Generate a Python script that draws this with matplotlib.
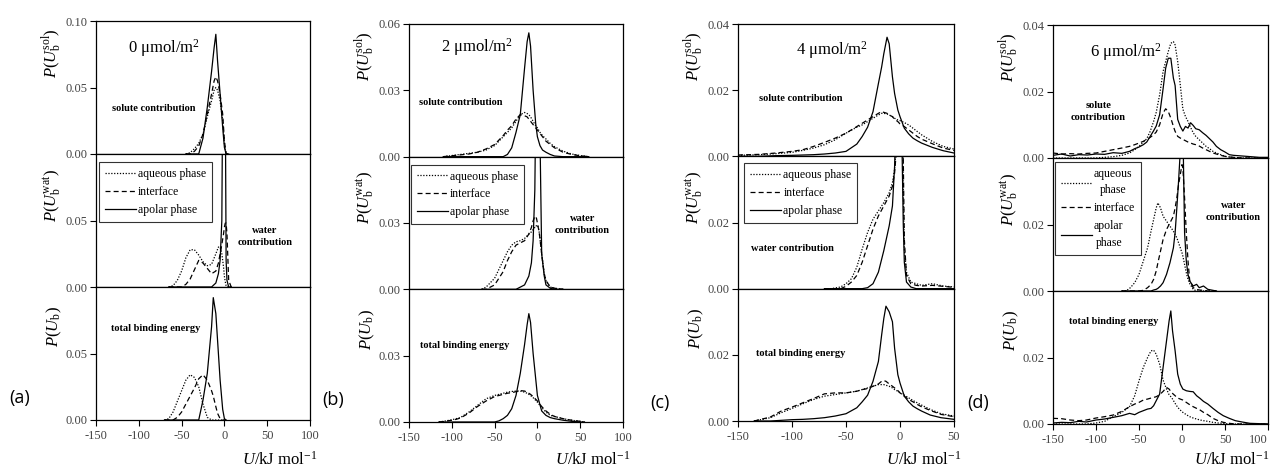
import numpy as np
import matplotlib
matplotlib.use('Agg')
from matplotlib import pyplot as plt

# ---- panel (a): 0 umol/m2 ----
a_sol_u = [-45, -40, -35, -30, -25, -20, -15, -12, -10, -8, -5, -2, 0, 2, 5]
a_sol_aq = [0, 0.001, 0.004, 0.008, 0.015, 0.028, 0.040, 0.048, 0.050, 0.048, 0.040, 0.025, 0.008, 0, 0]
a_sol_int = [0, 0, 0.002, 0.006, 0.015, 0.030, 0.045, 0.055, 0.058, 0.055, 0.045, 0.030, 0.010, 0, 0]
a_sol_apo = [0, 0, 0, 0, 0.012, 0.035, 0.062, 0.080, 0.090, 0.070, 0.045, 0.020, 0.005, 0, 0]

a_wat_u = [-65, -60, -55, -50, -45, -40, -35, -30, -25, -20, -15, -10, -7, -5, -3, -2, -1, 0, 1, 2, 3, 5, 8]
a_wat_aq = [0, 0.001, 0.005, 0.012, 0.022, 0.028, 0.028, 0.024, 0.019, 0.016, 0.017, 0.025, 0.030, 0.030,
            0.025, 0.020, 0.015, 0.008, 0.004, 0.001, 0, 0, 0]
a_wat_int = [0, 0, 0, 0, 0.002, 0.006, 0.013, 0.020, 0.018, 0.014, 0.010, 0.012, 0.018, 0.025,
             0.032, 0.036, 0.040, 0.045, 0.048, 0.048, 0.040, 0.005, 0]
a_wat_apo = [0, 0, 0, 0, 0, 0, 0, 0, 0, 0, 0, 0.003, 0.010, 0.020, 0.050, 0.150, 0.200, 0.200, 0.150,
             0.020, 0.005, 0, 0]

a_tot_u = [-70, -65, -60, -55, -50, -45, -40, -35, -30, -25, -20, -15, -13, -10, -8, -5, -2, 0, 2]
a_tot_aq = [0, 0.001, 0.006, 0.014, 0.022, 0.030, 0.034, 0.032, 0.025, 0.012, 0.002, 0, 0, 0, 0, 0, 0, 0, 0]
a_tot_int = [0, 0, 0, 0.002, 0.006, 0.012, 0.018, 0.024, 0.031, 0.034, 0.030, 0.022, 0.018, 0.010, 0.005,
             0.001, 0, 0, 0]
a_tot_apo = [0, 0, 0, 0, 0, 0, 0, 0, 0, 0.015, 0.035, 0.070, 0.092, 0.080, 0.060, 0.030, 0.008, 0.001, 0]

# ---- panel (b): 2 umol/m2 ----
b_sol_u = [-110, -100, -90, -80, -70, -60, -50, -40, -35, -30, -25, -20, -15, -12, -10, -8, -5, -2, 0,
           3, 6, 10, 15, 20, 30, 40, 50, 60]
b_sol_aq = [0, 0.0005, 0.001, 0.0015, 0.002, 0.003, 0.005, 0.009, 0.011, 0.013, 0.016, 0.019, 0.020,
            0.0195, 0.019, 0.018, 0.016, 0.014, 0.013, 0.011, 0.0095, 0.008, 0.006, 0.0045, 0.0025,
            0.0012, 0.0005, 0]
b_sol_int = [0, 0.0004, 0.0008, 0.0012, 0.002, 0.0035, 0.0055, 0.0095, 0.012, 0.014, 0.017, 0.019,
             0.0185, 0.018, 0.017, 0.016, 0.0145, 0.013, 0.012, 0.0105, 0.009, 0.007, 0.0055, 0.004,
             0.002, 0.001, 0.0004, 0]
b_sol_apo = [0, 0, 0, 0, 0, 0, 0, 0, 0.001, 0.004, 0.011, 0.019, 0.040, 0.052, 0.056, 0.050, 0.030,
             0.015, 0.009, 0.005, 0.003, 0.002, 0.001, 0.0003, 0, 0, 0, 0]

b_wat_u = [-65, -60, -50, -45, -40, -35, -30, -25, -20, -15, -10, -7, -5, -3, -2, -1, 0, 1, 2, 3, 5,
           8, 10, 15, 20, 30]
b_wat_aq = [0, 0.001, 0.005, 0.009, 0.013, 0.017, 0.020, 0.0215, 0.022, 0.023, 0.025, 0.026, 0.027,
            0.028, 0.028, 0.029, 0.029, 0.028, 0.026, 0.023, 0.016, 0.007, 0.004, 0.001, 0.0005, 0]
b_wat_int = [0, 0, 0.002, 0.005, 0.008, 0.013, 0.017, 0.020, 0.021, 0.022, 0.025, 0.028, 0.031, 0.033,
             0.033, 0.032, 0.030, 0.028, 0.026, 0.023, 0.016, 0.007, 0.004, 0.001, 0.0005, 0]
b_wat_apo = [0, 0, 0, 0, 0, 0, 0, 0, 0.001, 0.002, 0.006, 0.012, 0.022, 0.045, 0.080, 0.100, 0.100,
             0.100, 0.090, 0.070, 0.016, 0.006, 0.002, 0.0005, 0, 0]

b_tot_u = [-115, -110, -100, -95, -90, -80, -75, -70, -60, -50, -45, -40, -35, -30, -25, -20, -15, -12,
           -10, -8, -5, 0, 5, 10, 15, 20, 30, 40, 50, 55]
b_tot_aq = [0, 0.0003, 0.001, 0.0015, 0.002, 0.0045, 0.006, 0.0075, 0.0105, 0.012, 0.0125, 0.013,
            0.0135, 0.0138, 0.014, 0.014, 0.0135, 0.013, 0.0125, 0.012, 0.011, 0.009, 0.0065, 0.0045,
            0.003, 0.0025, 0.0015, 0.0008, 0.0003, 0]
b_tot_int = [0, 0.0002, 0.0008, 0.0012, 0.0018, 0.004, 0.0055, 0.007, 0.0095, 0.0115, 0.012, 0.0125,
             0.013, 0.0133, 0.0137, 0.0142, 0.014, 0.0135, 0.013, 0.0125, 0.0115, 0.0095, 0.007, 0.005,
             0.0035, 0.0025, 0.0015, 0.0008, 0.0003, 0]
b_tot_apo = [0, 0, 0, 0, 0, 0, 0, 0, 0, 0, 0.0005, 0.0015, 0.003, 0.006, 0.012, 0.022, 0.035, 0.044,
             0.049, 0.045, 0.031, 0.012, 0.005, 0.003, 0.002, 0.0015, 0.0008, 0.0003, 0, 0]

# ---- panel (c): 4 umol/m2 ----
c_sol_u = [-150, -130, -115, -100, -90, -80, -70, -60, -50, -40, -35, -30, -25, -20, -17, -15, -12,
           -10, -7, -5, -2, 0, 4, 8, 12, 16, 20, 30, 40, 50]
c_sol_aq = [0.0003, 0.0005, 0.0008, 0.0012, 0.0018, 0.0025, 0.0035, 0.005, 0.007, 0.0088, 0.0095,
            0.0105, 0.0115, 0.0125, 0.013, 0.013, 0.0128, 0.0125, 0.012, 0.0115, 0.011, 0.0108, 0.0102,
            0.0095, 0.0085, 0.0075, 0.0065, 0.0045, 0.003, 0.0022]
c_sol_int = [0.0004, 0.0006, 0.001, 0.0015, 0.002, 0.003, 0.0042, 0.0055, 0.007, 0.009, 0.010, 0.011,
             0.012, 0.013, 0.0135, 0.0133, 0.013, 0.0125, 0.012, 0.0112, 0.0105, 0.0098, 0.009, 0.008,
             0.007, 0.006, 0.0052, 0.0038, 0.0025, 0.0018]
c_sol_apo = [0, 0, 0.0002, 0.0003, 0.0004, 0.0005, 0.0007, 0.001, 0.0015, 0.0037, 0.006, 0.0088,
             0.0135, 0.022, 0.027, 0.031, 0.036, 0.034, 0.024, 0.019, 0.014, 0.012, 0.0085, 0.0068,
             0.0055, 0.0047, 0.004, 0.0027, 0.0017, 0.001]

c_wat_u = [-70, -64, -55, -50, -45, -40, -35, -30, -25, -20, -15, -10, -7, -5, -3, -2, -1, 0, 1, 2, 3,
           4, 6, 10, 15, 20, 30, 40, 50]
c_wat_aq = [0, 0, 0.0005, 0.0015, 0.003, 0.0065, 0.012, 0.017, 0.021, 0.0235, 0.026, 0.029, 0.032,
            0.036, 0.045, 0.055, 0.070, 0.080, 0.080, 0.070, 0.030, 0.012, 0.005, 0.002, 0.0015, 0.001,
            0.0015, 0.0008, 0.0005]
c_wat_int = [0, 0, 0, 0.0007, 0.002, 0.004, 0.008, 0.013, 0.018, 0.022, 0.025, 0.028, 0.031, 0.035,
             0.043, 0.050, 0.060, 0.075, 0.080, 0.075, 0.040, 0.015, 0.004, 0.0015, 0.001, 0.0008,
             0.001, 0.0007, 0.0004]
c_wat_apo = [0, 0, 0, 0, 0, 0, 0, 0.0003, 0.0015, 0.005, 0.0115, 0.019, 0.025, 0.037, 0.060, 0.080,
             0.080, 0.075, 0.060, 0.040, 0.020, 0.008, 0.002, 0.0005, 0, 0, 0, 0, 0]

c_tot_u = [-135, -120, -110, -100, -90, -80, -70, -60, -50, -40, -35, -30, -25, -20, -17, -15, -13,
           -10, -7, -5, -2, 0, 4, 8, 12, 16, 20, 28, 38, 50]
c_tot_aq = [0, 0.001, 0.0025, 0.0038, 0.0052, 0.0065, 0.0075, 0.008, 0.0085, 0.009, 0.0095, 0.010,
            0.0105, 0.011, 0.011, 0.011, 0.0108, 0.0105, 0.010, 0.0095, 0.009, 0.0085, 0.0078, 0.007,
            0.0062, 0.0055, 0.0048, 0.0035, 0.0022, 0.0015]
c_tot_int = [0, 0.0012, 0.003, 0.0042, 0.0055, 0.0068, 0.0082, 0.0085, 0.0085, 0.009, 0.0095, 0.0098,
             0.0105, 0.0112, 0.012, 0.0122, 0.012, 0.0112, 0.0105, 0.010, 0.0092, 0.0085, 0.0075,
             0.0065, 0.0058, 0.005, 0.0043, 0.0032, 0.002, 0.0013]
c_tot_apo = [0, 0, 0.0002, 0.0004, 0.0005, 0.0007, 0.001, 0.0015, 0.0022, 0.004, 0.0058, 0.0078,
             0.012, 0.018, 0.026, 0.031, 0.0347, 0.033, 0.030, 0.022, 0.014, 0.0115, 0.0075, 0.0058,
             0.0045, 0.0037, 0.003, 0.0018, 0.001, 0.0005]

# ---- panel (d): 6 umol/m2 ----
d_sol_u = [-150, -140, -130, -120, -110, -100, -90, -80, -70, -61, -55, -50, -45, -41, -37, -33, -30,
           -26, -22, -19, -16, -13, -10, -8, -5, -2, 1, 4, 7, 10, 13, 16, 20, 24, 28, 32, 36, 40, 45,
           50, 55, 60, 70, 80, 90, 100]
d_sol_aq = [0, 0, 0, 0, 0, 0, 0.0002, 0.0004, 0.0008, 0.0015, 0.0025, 0.0035, 0.0048, 0.0058, 0.008,
            0.011, 0.0137, 0.019, 0.026, 0.029, 0.032, 0.0345, 0.035, 0.034, 0.029, 0.022, 0.0147,
            0.0125, 0.011, 0.0092, 0.0076, 0.0065, 0.0055, 0.0045, 0.0035, 0.0028, 0.002, 0.0015,
            0.001, 0.0005, 0.0003, 0.0002, 0, 0, 0, 0]
d_sol_int = [0.0015, 0.0012, 0.0013, 0.0012, 0.0014, 0.0015, 0.002, 0.0025, 0.003, 0.0035, 0.004,
             0.0045, 0.005, 0.0056, 0.0062, 0.007, 0.0078, 0.010, 0.0135, 0.0148, 0.014, 0.012, 0.0095,
             0.008, 0.0065, 0.006, 0.0056, 0.0052, 0.0048, 0.0045, 0.0042, 0.004, 0.0036, 0.003,
             0.0025, 0.002, 0.0015, 0.0012, 0.0008, 0.0005, 0.0003, 0.0002, 0, 0, 0, 0]
d_sol_apo = [0.0008, 0.0012, 0.0006, 0.001, 0.0009, 0.0012, 0.0011, 0.0016, 0.0014, 0.002, 0.0028,
             0.0033, 0.004, 0.0048, 0.0065, 0.0082, 0.0096, 0.013, 0.0208, 0.027, 0.030, 0.030, 0.024,
             0.0218, 0.0116, 0.0095, 0.0081, 0.0095, 0.009, 0.0106, 0.0098, 0.0088, 0.0085, 0.0076,
             0.0068, 0.0058, 0.0048, 0.0035, 0.0025, 0.0018, 0.001, 0.0008, 0.0006, 0.0004, 0.0002,
             0.0002]

d_wat_u = [-70, -65, -60, -55, -50, -45, -40, -36, -33, -30, -28, -25, -22, -18, -14, -10, -8, -6, -4,
           -2, 0, 1, 3, 5, 7, 9, 13, 17, 20, 25, 30, 40]
d_wat_aq = [0, 0, 0.001, 0.0025, 0.005, 0.009, 0.013, 0.018, 0.0215, 0.025, 0.0265, 0.025, 0.0225,
            0.021, 0.0195, 0.018, 0.017, 0.016, 0.0145, 0.013, 0.0115, 0.0105, 0.008, 0.0055, 0.0035,
            0.0022, 0.0005, 0, 0, 0, 0, 0]
d_wat_int = [0, 0, 0, 0, 0, 0.0002, 0.001, 0.002, 0.0035, 0.006, 0.0085, 0.012, 0.0155, 0.0185,
             0.0205, 0.0225, 0.025, 0.028, 0.032, 0.035, 0.038, 0.037, 0.028, 0.0175, 0.009, 0.003,
             0.001, 0.0005, 0.0003, 0.0002, 0, 0]
d_wat_apo = [0, 0, 0, 0, 0, 0, 0, 0, 0.0003, 0.0005, 0.0008, 0.0015, 0.0025, 0.005, 0.0085, 0.013,
             0.0175, 0.025, 0.033, 0.042, 0.050, 0.050, 0.0175, 0.009, 0.005, 0.003, 0.0015, 0.002,
             0.001, 0.0015, 0.0005, 0]

d_tot_u = [-150, -140, -130, -120, -111, -100, -90, -80, -70, -61, -55, -50, -45, -40, -36, -33, -30,
           -26, -22, -18, -15, -13, -11, -8, -5, -2, 1, 5, 9, 13, 17, 21, 25, 30, 36, 42, 48, 55, 62,
           70, 79, 90, 100]
d_tot_aq = [0, 0, 0, 0, 0, 0.0003, 0.0008, 0.0022, 0.0035, 0.0052, 0.0085, 0.013, 0.017, 0.020, 0.022,
            0.0222, 0.021, 0.018, 0.0132, 0.0105, 0.0088, 0.0082, 0.0075, 0.0062, 0.005, 0.0042,
            0.0035, 0.0028, 0.0022, 0.0018, 0.0015, 0.0012, 0.001, 0.0008, 0.0005, 0.0003, 0.0002,
            0, 0, 0, 0, 0, 0]
d_tot_int = [0.0017, 0.0016, 0.0012, 0.001, 0.0012, 0.0018, 0.0022, 0.0027, 0.0038, 0.0052, 0.006,
             0.0065, 0.0072, 0.0075, 0.0078, 0.008, 0.0082, 0.0088, 0.0098, 0.011, 0.0105, 0.0098,
             0.0092, 0.0085, 0.0078, 0.0075, 0.0072, 0.0065, 0.0058, 0.0052, 0.0047, 0.0042, 0.0035,
             0.0028, 0.0017, 0.001, 0.0005, 0.0002, 0, 0, 0, 0, 0]
d_tot_apo = [0.0003, 0.0005, 0.0004, 0.0008, 0.0006, 0.0012, 0.0015, 0.002, 0.0025, 0.0032, 0.0028,
             0.0035, 0.004, 0.0045, 0.0047, 0.0055, 0.007, 0.009, 0.017, 0.025, 0.031, 0.034, 0.028,
             0.022, 0.015, 0.012, 0.0105, 0.010, 0.0098, 0.0097, 0.0085, 0.0077, 0.0068, 0.006, 0.0047,
             0.0035, 0.0025, 0.0017, 0.001, 0.0006, 0.0002, 0.0001, 0]

series_names = ['aqueous phase', 'interface', 'apolar phase']
row_labels = [r'$P(U_{\rm b}^{\rm sol})$', r'$P(U_{\rm b}^{\rm wat})$', r'$P(U_{\rm b})$']
conc_labels = ['0 μmol/m$^2$', '2 μmol/m$^2$', '4 μmol/m$^2$', '6 μmol/m$^2$']
panel_letters = ['(a)', '(b)', '(c)', '(d)']

W, H = 1272, 472
plt.rcParams['font.family'] = 'Liberation Serif'
plt.rcParams['mathtext.fontset'] = 'custom'
plt.rcParams['mathtext.rm'] = 'Liberation Serif'
plt.rcParams['mathtext.it'] = 'Liberation Serif:italic'
plt.rcParams['mathtext.bf'] = 'Liberation Serif:bold'

fig = plt.figure(figsize=(W / 100, H / 100), dpi=100)


def px_axes(left, right, top, bottom):
    return fig.add_axes([left / W, 1 - bottom / H, (right - left) / W, (bottom - top) / H])


# layout per panel: box in pixels, x max, y max, text positions
panels = [
    dict(box=(96, 310, 21, 420), xmax=100, ymax=0.10,
         data=[(a_sol_u, a_sol_aq, a_sol_int, a_sol_apo), (a_wat_u, a_wat_aq, a_wat_int, a_wat_apo),
               (a_tot_u, a_tot_aq, a_tot_int, a_tot_apo)],
         conc=(0.32, 0.80), sol=('solute contribution', 0.27, 0.34),
         wat=('water\ncontribution', 0.79, 0.38), tot=(0.28, 0.69),
         leg=(0.014, 0.94), letter=(20, 398), wrap=False),
    dict(box=(409, 623, 24, 422), xmax=100, ymax=0.06,
         data=[(b_sol_u, b_sol_aq, b_sol_int, b_sol_apo), (b_wat_u, b_wat_aq, b_wat_int, b_wat_apo),
               (b_tot_u, b_tot_aq, b_tot_int, b_tot_apo)],
         conc=(0.32, 0.83), sol=('solute contribution', 0.24, 0.41),
         wat=('water\ncontribution', 0.81, 0.49), tot=(0.26, 0.58),
         leg=(0.01, 0.94), letter=(333, 400), wrap=False),
    dict(box=(738, 954, 24, 421), xmax=50, ymax=0.04,
         data=[(c_sol_u, c_sol_aq, c_sol_int, c_sol_apo), (c_wat_u, c_wat_aq, c_wat_int, c_wat_apo),
               (c_tot_u, c_tot_aq, c_tot_int, c_tot_apo)],
         conc=(0.435, 0.80), sol=('solute contribution', 0.29, 0.44),
         wat=('water contribution', 0.25, 0.30), tot=(0.29, 0.51),
         leg=(0.03, 0.95), letter=(660, 403), wrap=False),
    dict(box=(1053, 1268, 25, 424), xmax=100, ymax=0.04,
         data=[(d_sol_u, d_sol_aq, d_sol_int, d_sol_apo), (d_wat_u, d_wat_aq, d_wat_int, d_wat_apo),
               (d_tot_u, d_tot_aq, d_tot_int, d_tot_apo)],
         conc=(0.34, 0.80), sol=('solute\ncontribution', 0.21, 0.35),
         wat=('water\ncontribution', 0.84, 0.60), tot=(0.28, 0.77),
         leg=(0.01, 0.97), letter=(978, 403), wrap=True),
]

line_styles = [(0, (1, 1.3)), (0, (4, 2.5)), '-']
tick_col = '#444444'
label_y = [0.76, 0.69, 0.70]

for k, p in enumerate(panels):
    left, right, top, bottom = p['box']
    h = (bottom - top) / 3
    ymax = p['ymax']
    for row in range(3):
        ax = px_axes(left, right, top + row * h, top + (row + 1) * h)
        u = p['data'][row][0]
        for y, ls, name in zip(p['data'][row][1:], line_styles, series_names):
            ax.plot(u, y, color='k', ls=ls, lw=0.9, label=name)
        ax.set_xlim(-150, p['xmax'])
        ax.set_ylim(0, ymax)
        if row == 0:
            ax.set_yticks([0, ymax / 2, ymax])
        else:
            ax.set_yticks([0, ymax / 2])
        ax.set_yticklabels([f'{v:.2f}' for v in ax.get_yticks()])
        xt = np.arange(-150, p['xmax'] + 1, 50)
        ax.set_xticks(xt)
        if row == 2:
            ax.set_xticklabels([str(int(v)) for v in xt])
            ax.tick_params(axis='x', direction='out', length=4, width=0.8,
                           labelsize=9, labelcolor=tick_col, pad=3)
            if right > W - 20:
                # last label would run off the figure edge
                ax.get_xticklabels()[-1].set_ha('right')
        else:
            ax.tick_params(axis='x', length=0, labelbottom=False)
        ax.tick_params(axis='y', direction='out', length=4, width=0.8,
                       labelsize=9, labelcolor=tick_col, pad=2)
        for sp in ax.spines.values():
            sp.set_linewidth(0.9)
        ax.set_ylabel(row_labels[row], fontsize=12)
        ax.yaxis.set_label_coords(-0.15, label_y[row])

        if row == 0:
            ax.text(p['conc'][0], p['conc'][1], conc_labels[k], transform=ax.transAxes,
                    ha='center', va='center', fontsize=12)
            txt, tx, ty = p['sol']
            ax.text(tx, ty, txt, transform=ax.transAxes, ha='center', va='center',
                    fontsize=7.5, fontweight='bold', linespacing=1.4)
        elif row == 1:
            txt, tx, ty = p['wat']
            ax.text(tx, ty, txt, transform=ax.transAxes, ha='center', va='center',
                    fontsize=7.5, fontweight='bold', linespacing=1.4)
            handles, labels = ax.get_legend_handles_labels()
            if p['wrap']:
                labels = ['aqueous\nphase', 'interface', 'apolar\nphase']
            leg = ax.legend(handles, labels, loc='upper left', bbox_to_anchor=p['leg'],
                            frameon=True, fancybox=False, edgecolor='k', fontsize=8.5,
                            handlelength=2.6, handletextpad=0.2, borderaxespad=0,
                            labelspacing=0.5, borderpad=0.5)
            leg.get_frame().set_linewidth(0.8)
            for t in leg.get_texts():
                t.set_multialignment('center')
                t.set_linespacing(1.5)
        else:
            ax.text(p['tot'][0], p['tot'][1], 'total binding energy', transform=ax.transAxes,
                    ha='center', va='center', fontsize=7.5, fontweight='bold')

    fig.text(p['letter'][0] / W, 1 - p['letter'][1] / H, panel_letters[k],
             family='Open Sans', fontsize=13, ha='center', va='center')
    if right > W - 20:
        fig.text((W - 3) / W, 1 - 460 / H, r'$U$/kJ mol$^{-1}$',
                 ha='right', va='center', fontsize=12)
    else:
        fig.text((right - 30) / W, 1 - 460 / H, r'$U$/kJ mol$^{-1}$',
                 ha='center', va='center', fontsize=12)

plt.savefig('out.png', dpi=100)
